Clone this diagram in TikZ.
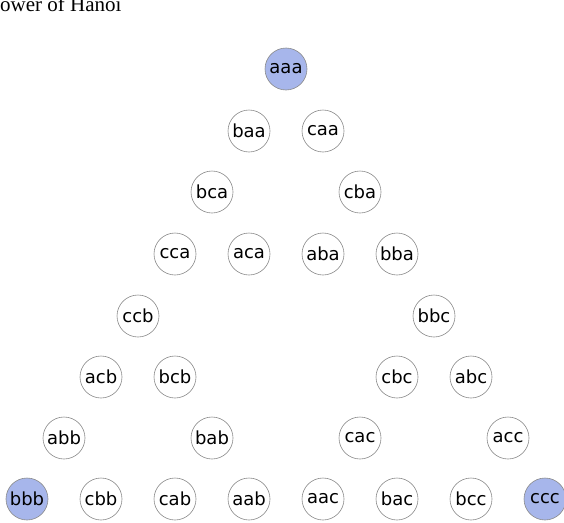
\documentclass[tikz,border=0pt]{standalone}
\usepackage{fontspec}
\setmainfont{Liberation Serif}
\newfontfamily\statefont{DejaVu Sans}
\definecolor{endfill}{HTML}{A7B6EB}
\definecolor{ringgray}{HTML}{8A8A8A}
\tikzset{
  state/.style={circle, draw=ringgray, line width=0.6pt, fill=white,
    minimum size=42pt, inner sep=0pt, font=\statefont\fontsize{18}{18}\selectfont},
  corner/.style={state, fill=endfill},
  title/.style={anchor=base west, inner sep=0pt, font=\fontsize{21}{21}\selectfont}
}
\begin{document}
\begin{tikzpicture}[x=1pt, y=-1pt]
\useasboundingbox (0,0) rectangle (564,522);
\clip (0,0) rectangle (564,522);
\node[title] (heading) at (0,12) {ower of Hanoi};
% column k sits at x = 27 + 37k
\foreach \name/\k/\y/\sty in {
  aaa/7/69/corner,
  baa/6/131/state, caa/8/131/state,
  bca/5/192/state, cba/9/192/state,
  cca/4/254/state, aca/6/254/state, aba/8/254/state, bba/10/254/state,
  ccb/3/316/state, bbc/11/316/state,
  acb/2/377/state, bcb/4/377/state, cbc/10/377/state, abc/12/377/state,
  abb/1/438/state, bab/5/438/state, cac/9/438/state, acc/13/438/state,
  bbb/0/499/corner, cbb/2/499/state, cab/4/499/state, aab/6/499/state,
  aac/8/499/state, bac/10/499/state, bcc/12/499/state, ccc/14/499/corner}
  \node[\sty] (\name) at ({27+37*\k},\y) {\name};
\end{tikzpicture}
\end{document}
